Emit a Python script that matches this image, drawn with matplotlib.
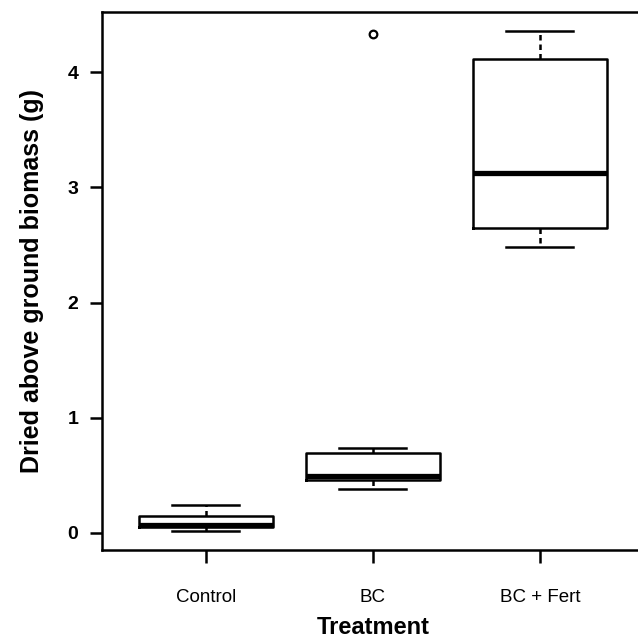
import matplotlib.pyplot as plt

# values
treatments = ['Control', 'BC', 'BC + Fert']
whis_lo = [0.02, 0.38, 2.48]
q1 = [0.05, 0.46, 2.65]
median = [0.07, 0.49, 3.12]
q3 = [0.15, 0.69, 4.11]
whis_hi = [0.24, 0.74, 4.36]
outliers = [[], [4.33], []]

plt.rcParams['font.family'] = ['Liberation Sans', 'DejaVu Sans']

stats = []
for i in range(len(treatments)):
    stats.append({'whislo': whis_lo[i], 'q1': q1[i], 'med': median[i],
                  'q3': q3[i], 'whishi': whis_hi[i], 'fliers': outliers[i],
                  'label': treatments[i]})

fig = plt.figure(figsize=(6.38, 6.41), dpi=100)
ax = fig.add_axes([0.16, 0.142, 0.8486, 0.839])

ax.bxp(stats, positions=[1, 2, 3], widths=0.8, showfliers=True,
       boxprops=dict(color='black', linewidth=1.8, solid_joinstyle='round'),
       medianprops=dict(color='black', linewidth=3.8, solid_capstyle='butt'),
       whiskerprops=dict(color='black', linewidth=1.8, linestyle=(0, (2.2, 1.6))),
       capprops=dict(color='black', linewidth=1.8),
       capwidths=0.4,
       flierprops=dict(marker='o', markerfacecolor='white', markeredgecolor='black',
                       markersize=5.5, markeredgewidth=1.6))

ax.set_xlim(0.38, 3.62)
ax.set_ylim(-0.148, 4.52)
ax.set_yticks([0, 1, 2, 3, 4])
ax.set_yticklabels(['0', '1', '2', '3', '4'], fontweight='bold')
ax.set_xticks([1, 2, 3])
ax.set_xticklabels(treatments)

for s in ax.spines.values():
    s.set_linewidth(1.8)
ax.tick_params(axis='y', length=9, width=1.8, labelsize=14, pad=8)
ax.tick_params(axis='x', length=9, width=1.8, labelsize=13.5, pad=19)

ax.set_ylabel('Dried above ground biomass (g)', fontsize=18, fontweight='bold', labelpad=17)
ax.set_xlabel('Treatment', fontsize=17, fontweight='bold', labelpad=7)

plt.savefig('out.png', dpi=100)
